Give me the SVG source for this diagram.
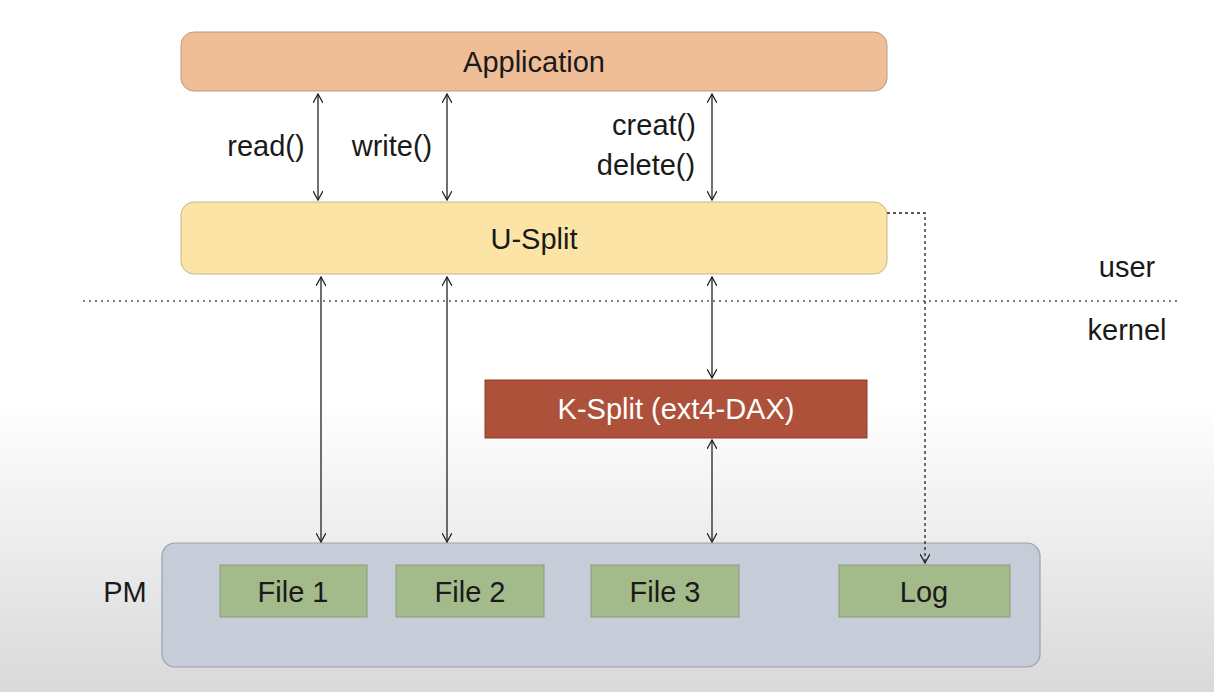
<svg xmlns="http://www.w3.org/2000/svg" width="1214" height="692" viewBox="0 0 1214 692">
<defs>
<linearGradient id="bg" x1="0" y1="0" x2="0" y2="1">
<stop offset="0" stop-color="#ffffff"/>
<stop offset="0.58" stop-color="#ffffff"/>
<stop offset="1" stop-color="#d9d9d9"/>
</linearGradient>
<marker id="ah" viewBox="0 0 10 10" refX="9" refY="5" markerWidth="10" markerHeight="10" markerUnits="userSpaceOnUse" orient="auto-start-reverse">
<path d="M0,0 L9,5 L0,10" fill="none" stroke="#222" stroke-width="1.3"/>
</marker>
</defs>
<style>
.lbl{font-family:"Liberation Sans",Arial,sans-serif;font-size:29px;fill:#1a1a1a;}
.mid{text-anchor:middle;dominant-baseline:central;}
.conn{stroke:#222;stroke-width:1.3;fill:none;}
.file{fill:#a3ba8b;stroke:#8a9a7c;stroke-width:1;}
</style>
<rect width="1214" height="692" fill="url(#bg)"/>
<g id="divider"><line x1="83" y1="301" x2="1178" y2="301" stroke="#555" stroke-width="1.5" stroke-dasharray="2,4"/></g>
<g id="application"><rect x="181" y="32" width="706" height="59" rx="13" fill="#f0be96" stroke="#b49a86" stroke-width="1"/><text class="lbl mid" x="534" y="62">Application</text></g>
<g id="usplit"><rect x="181" y="202" width="706" height="72" rx="13" fill="#fbe4a6" stroke="#c8b68a" stroke-width="1"/><text class="lbl mid" x="534" y="239">U-Split</text></g>
<g id="ksplit"><rect x="485" y="380" width="382" height="58" fill="#ad513b" stroke="#8c3e2c" stroke-width="1"/><text class="lbl mid" x="676" y="409" style="fill:#ffffff">K-Split (ext4-DAX)</text></g>
<g id="pm"><rect x="162" y="543" width="878" height="124" rx="13" fill="#c6cdd9" stroke="#9aa1ab" stroke-width="1.2"/></g>
<g id="file1"><rect class="file" x="220" y="565" width="147" height="52"/><text class="lbl mid" x="293" y="592">File 1</text></g>
<g id="file2"><rect class="file" x="396" y="565" width="148" height="52"/><text class="lbl mid" x="470" y="592">File 2</text></g>
<g id="file3"><rect class="file" x="591" y="565" width="148" height="52"/><text class="lbl mid" x="665" y="592">File 3</text></g>
<g id="log"><rect class="file" x="839" y="565" width="171" height="52"/><text class="lbl mid" x="924" y="592">Log</text></g>
<g id="labels">
<text class="lbl mid" x="266" y="146">read()</text>
<text class="lbl mid" x="392" y="146">write()</text>
<text class="lbl mid" x="654" y="125">creat()</text>
<text class="lbl mid" x="646" y="165">delete()</text>
<text class="lbl mid" x="1127" y="267">user</text>
<text class="lbl mid" x="1127" y="330">kernel</text>
<text class="lbl mid" x="125" y="592">PM</text>
</g>
<g id="connectors">
<line class="conn" x1="318" y1="94" x2="318" y2="200" marker-start="url(#ah)" marker-end="url(#ah)"/>
<line class="conn" x1="447" y1="94" x2="447" y2="200" marker-start="url(#ah)" marker-end="url(#ah)"/>
<line class="conn" x1="712" y1="94" x2="712" y2="200" marker-start="url(#ah)" marker-end="url(#ah)"/>
<line class="conn" x1="321" y1="277" x2="321" y2="542" marker-start="url(#ah)" marker-end="url(#ah)"/>
<line class="conn" x1="447" y1="277" x2="447" y2="542" marker-start="url(#ah)" marker-end="url(#ah)"/>
<line class="conn" x1="712" y1="277" x2="712" y2="378" marker-start="url(#ah)" marker-end="url(#ah)"/>
<line class="conn" x1="712" y1="440" x2="712" y2="542" marker-start="url(#ah)" marker-end="url(#ah)"/>
<path class="conn" d="M887,213 H925 V563" stroke-dasharray="3,3" marker-end="url(#ah)"/>
</g>
</svg>
